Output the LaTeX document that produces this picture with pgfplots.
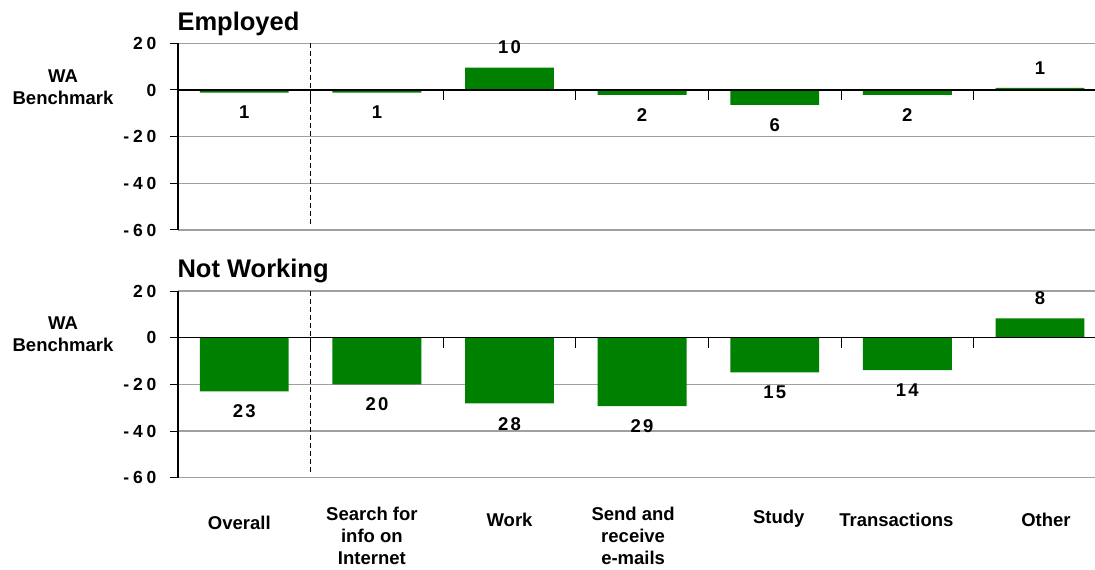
\documentclass[border=0pt]{standalone}
\usepackage{pgfplots}
\pgfplotsset{compat=1.18}
\usepackage{fontspec}
\setmainfont{Liberation Sans}
\newfontfamily\tickfont{Liberation Sans}[LetterSpace=22]
\newfontfamily\valfont{Liberation Sans}[LetterSpace=12]
\definecolor{bargreen}{HTML}{008000}
\definecolor{gridgray}{HTML}{A0A0A0}
\newcommand{\lbl}{\fontsize{18.5}{22}\selectfont\bfseries}
\newcommand{\tck}{\tickfont\fontsize{17.5}{20}\selectfont\bfseries}
\newcommand{\val}{\valfont\fontsize{18.5}{22}\selectfont\bfseries}
\newcommand{\ttl}{\fontsize{25.5}{30}\selectfont\bfseries}

\pgfplotsset{panel/.style={
    scale only axis, width=917pt, height=186.67pt,
    xmin=-0.5, xmax=6.415, ymin=-60, ymax=20,
    ytick={-60,-40,-20,0,20},
    axis x line=none, axis y line*=left,
    ymajorgrids, grid style={gridgray, line width=1.3pt},
    y axis line style={black, line width=1.2pt},
    ytick style={black, line width=1pt},
    tick align=outside, major tick length=8pt,
    yticklabel style={font=\tck, xshift=-10pt},
    /pgf/number format/assume math mode=true,
    ybar, bar width=0.67,
    point meta=rawy,
    nodes near coords={\pgfkeys{/pgf/fpu=true}\pgfmathparse{abs(\pgfplotspointmeta)}\pgfmathprintnumber[fixed,precision=0]{\pgfmathresult}},
    nodes near coords style={font=\val, black, inner ysep=13.5pt, inner xsep=0pt},
    clip=false,
}}

\begin{document}
\begin{tikzpicture}
\path[use as bounding box] (0,0) rectangle (1095pt,570pt);

% Employed
\begin{axis}[panel, at={(178pt,340pt)}, anchor=south west]
  \addplot[draw=none, fill=bargreen] coordinates {
    (0,-1.1) (1,-1.1) (2,9.6) (3,-2.1) (4,-6.4) (5,-2.1) (6,0.9) };
  \draw[black, line width=1.2pt] (axis cs:-0.5,0) -- (axis cs:6.415,0);
  \pgfplotsinvokeforeach{0.5,1.5,2.5,3.5,4.5,5.5}{
    \draw[black, line width=1pt] (axis cs:#1,0) -- ([yshift=-10pt]axis cs:#1,0);}
  \draw[black, line width=0.8pt, dash pattern=on 5pt off 3pt]
    (axis cs:0.5,20) -- (axis cs:0.5,-58);
  \node[anchor=base west, font=\ttl, yshift=13pt, xshift=-4pt] at (axis cs:-0.5,20) {Employed};
\end{axis}

% Not Working
\begin{axis}[panel, at={(178pt,92.3pt)}, anchor=south west]
  \addplot[draw=none, fill=bargreen] coordinates {
    (0,-23) (1,-20) (2,-28.2) (3,-29.3) (4,-14.9) (5,-13.9) (6,8.3) };
  \draw[black, line width=1.2pt] (axis cs:-0.5,0) -- (axis cs:6.415,0);
  \pgfplotsinvokeforeach{0.5,1.5,2.5,3.5,4.5,5.5}{
    \draw[black, line width=1pt] (axis cs:#1,0) -- ([yshift=-10pt]axis cs:#1,0);}
  \draw[black, line width=0.8pt, dash pattern=on 5pt off 3pt]
    (axis cs:0.5,20) -- (axis cs:0.5,-58);
  \node[anchor=base west, font=\ttl, yshift=14pt, xshift=-4pt] at (axis cs:-0.5,20) {Not Working};
  % category labels
  \node[font=\lbl, yshift=-45pt, xshift=-5pt] at (axis cs:0,-60) {Overall};
  \node[font=\lbl, align=center, yshift=-58pt, xshift=-5pt] at (axis cs:1,-60) {Search for\\info on\\Internet};
  \node[font=\lbl, yshift=-42pt] at (axis cs:2,-60) {Work};
  \node[font=\lbl, align=center, yshift=-58pt, xshift=-9pt] at (axis cs:3,-60) {Send and\\receive\\e-mails};
  \node[font=\lbl, yshift=-41pt, xshift=4pt] at (axis cs:4,-60) {Study};
  \node[font=\lbl, yshift=-42pt, xshift=-11pt] at (axis cs:5,-60) {Transactions};
  \node[font=\lbl, yshift=-42pt, xshift=6pt] at (axis cs:6,-60) {Other};
\end{axis}

\node[font=\lbl, align=center] at (63pt,483pt) {WA\\Benchmark};
\node[font=\lbl, align=center] at (63pt,236pt) {WA\\Benchmark};
\end{tikzpicture}
\end{document}
